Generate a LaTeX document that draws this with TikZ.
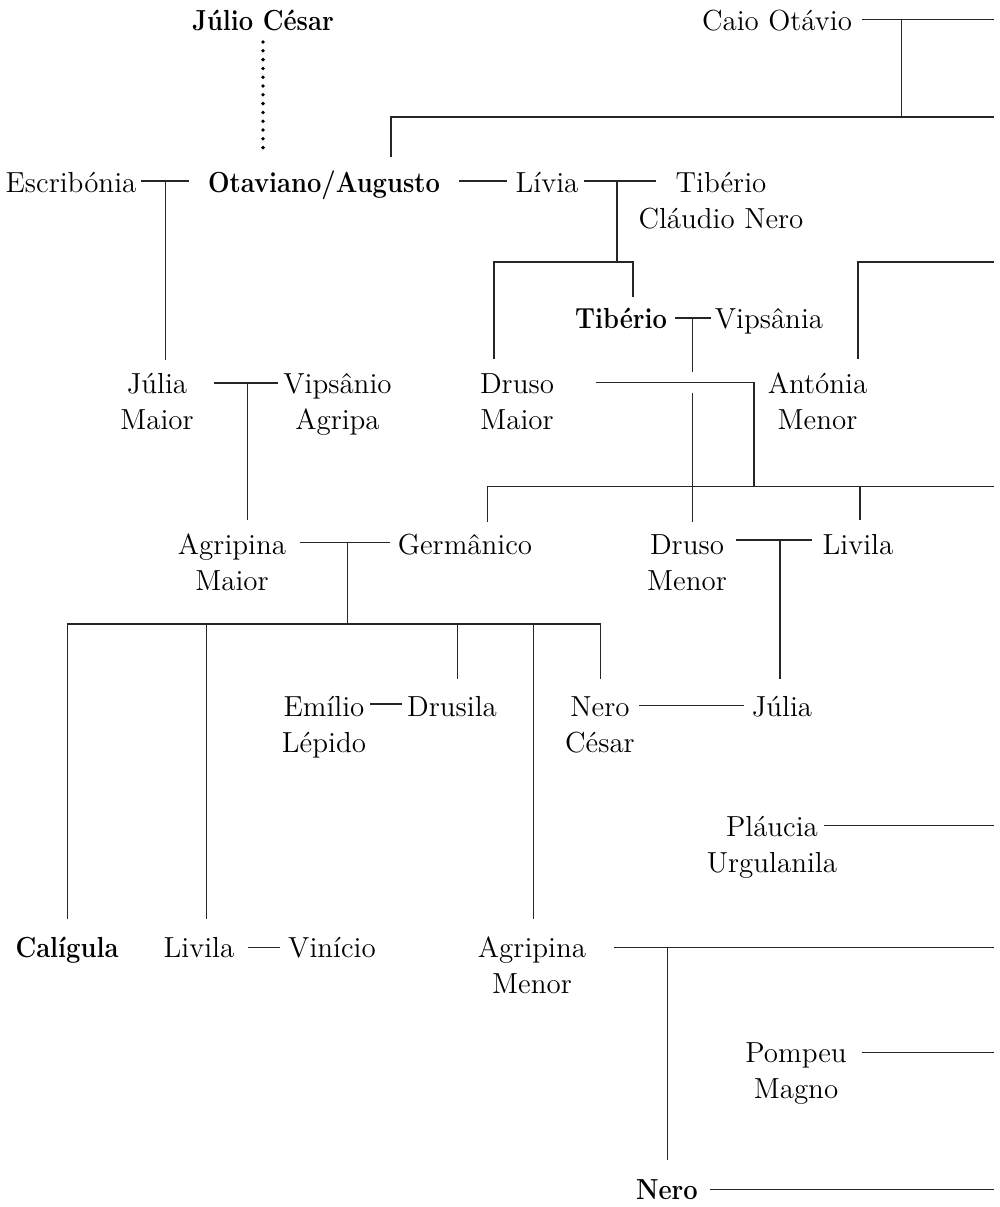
\documentclass[tikz,border=0pt]{standalone}
\newcommand{\rulername}[1]{\scalebox{0.88}[1]{\bfseries #1}}
\begin{document}
\begin{tikzpicture}[x=0.5pt,y=-0.5pt,
  person/.style={anchor=base,inner sep=0pt,align=center,font=\fontsize{14.5}{18}\selectfont},
  ruler/.style={person},
  link/.style={line width=0.65pt,draw=black!85},
  dots/.style={line width=1.9pt,line cap=round,dash pattern=on 0pt off 4.4pt}]
\useasboundingbox (0,0) rectangle (1000,1207);
% people (two-line names are placed by the baseline of their last line)
\node[ruler]  (jc)   at (263,30)    {\rulername{Júlio César}};
\node[person] (caio) at (777,30)    {Caio Otávio};
\node[person] (esc)  at (71,192)    {Escribónia};
\node[ruler]  (aug)  at (324,192)   {\rulername{Otaviano/Augusto}};
\node[person] (liv)  at (547,192)   {Lívia};
\node[person] (tcn)  at (721,228)   {Tibério\\Cláudio Nero};
\node[ruler]  (tib)  at (621,328.5) {\rulername{Tibério}};
\node[person] (vipa) at (769,328.5) {Vipsânia};
\node[person] (julm) at (157,429.5) {Júlia\\Maior};
\node[person] (vipo) at (337.5,429.5) {Vipsânio\\Agripa};
\node[person] (drma) at (517,429.5) {Druso\\Maior};
\node[person] (anto) at (817.5,429.5) {Antónia\\Menor};
\node[person] (agma) at (232,590)   {Agripina\\Maior};
\node[person] (germ) at (465,554)   {Germânico};
\node[person] (drme) at (687,590)   {Druso\\Menor};
\node[person] (livi) at (858,554)   {Livila};
\node[person] (emil) at (324,752)   {Emílio\\Lépido};
\node[person] (drus) at (452,716)   {Drusila};
\node[person] (nerc) at (600,752)   {Nero\\César};
\node[person] (juli) at (782,716)   {Júlia};
\node[person] (plau) at (772,872.5) {Pláucia\\Urgulanila};
\node[ruler]  (cali) at (67,957.5)  {\rulername{Calígula}};
\node[person] (liv2) at (199,957.5) {Livila};
\node[person] (vini) at (332,957.5) {Vinício};
\node[person] (agme) at (532,993.5) {Agripina\\Menor};
\node[person] (pomp) at (796,1098)  {Pompeu\\Magno};
\node[ruler]  (nero) at (667,1199.5){\rulername{Nero}};
% junction coordinates
\coordinate (d1) at (263,42);   \coordinate (d2) at (263,156);
\coordinate (c1) at (862,19.5); \coordinate (c2) at (994,19.5);
\coordinate (c3) at (901.5,19.5); \coordinate (c4) at (901.5,117);
\coordinate (t1) at (391,157);  \coordinate (t2) at (391,117); \coordinate (t3) at (994,117);
\coordinate (e1) at (141,181);  \coordinate (e2) at (189,181);
\coordinate (e3) at (165.5,181); \coordinate (e4) at (165.5,360);
\coordinate (a1) at (459,181);  \coordinate (a2) at (507,181);
\coordinate (l1) at (584,181);  \coordinate (l2) at (656,181);
\coordinate (l3) at (617,181);  \coordinate (l4) at (617,262);
\coordinate (l5) at (494,359);  \coordinate (l6) at (494,262);
\coordinate (l7) at (633,262);  \coordinate (l8) at (633,297);
\coordinate (v1) at (675,318);  \coordinate (v2) at (711,318);
\coordinate (v3) at (692.7,318); \coordinate (v4) at (692.7,372);
\coordinate (v5) at (692.7,393); \coordinate (v6) at (692.7,522);
\coordinate (n1) at (858,359);  \coordinate (n2) at (858,262); \coordinate (n3) at (994,262);
\coordinate (m1) at (596,382.7); \coordinate (m2) at (754,382.7); \coordinate (m3) at (754,486.7);
\coordinate (g1) at (487.6,521.7); \coordinate (g2) at (487.6,486.7); \coordinate (g3) at (994,486.7);
\coordinate (g4) at (860,486.7); \coordinate (g5) at (860,520);
\coordinate (j1) at (214,383);  \coordinate (j2) at (278,383);
\coordinate (j3) at (247.5,383); \coordinate (j4) at (247.5,520);
\coordinate (k1) at (300,542.3); \coordinate (k2) at (389.7,542.3);
\coordinate (k3) at (347.4,542.3); \coordinate (k4) at (347.4,624);
\coordinate (b1) at (67.6,624); \coordinate (b2) at (600.7,624);
\coordinate (b1d) at (67.6,919);
\coordinate (b3) at (206.5,624); \coordinate (b3d) at (206.5,919);
\coordinate (b4) at (457.7,624); \coordinate (b4d) at (457.7,679);
\coordinate (b5) at (533.2,624); \coordinate (b5d) at (533.2,919);
\coordinate (b2d) at (600.7,679);
\coordinate (r1) at (735.7,540); \coordinate (r2) at (812,540);
\coordinate (r3) at (780,540);  \coordinate (r4) at (780,679);
\coordinate (s1) at (370,704);  \coordinate (s2) at (402,704);
\coordinate (s3) at (639,705.7); \coordinate (s4) at (744,705.7);
\coordinate (p1) at (824,825.7); \coordinate (p2) at (994,825.7);
\coordinate (w1) at (247.5,947.7); \coordinate (w2) at (280,947.7);
\coordinate (x1) at (614,947.7); \coordinate (x2) at (994,947.7);
\coordinate (x3) at (667.7,947.7); \coordinate (x4) at (667.7,1160);
\coordinate (q1) at (861.7,1052.3); \coordinate (q2) at (994,1052.3);
\coordinate (z1) at (710,1189.5); \coordinate (z2) at (994,1189.5);
% connectors
\draw[dots] (d1) -- (d2);
\draw[link] (c1) -- (c2);
\draw[link] (c3) -- (c4);
\draw[link] (t1) -- (t2) -- (t3);
\draw[link] (e1) -- (e2);
\draw[link] (e3) -- (e4);
\draw[link] (a1) -- (a2);
\draw[link] (l1) -- (l2);
\draw[link] (l3) -- (l4);
\draw[link] (l5) -- (l6) -- (l7) -- (l8);
\draw[link] (v1) -- (v2);
\draw[link] (v3) -- (v4);
\draw[link] (v5) -- (v6);
\draw[link] (n1) -- (n2) -- (n3);
\draw[link] (m1) -- (m2) -- (m3);
\draw[link] (g1) -- (g2) -- (g3);
\draw[link] (g4) -- (g5);
\draw[link] (j1) -- (j2);
\draw[link] (j3) -- (j4);
\draw[link] (k1) -- (k2);
\draw[link] (k3) -- (k4);
\draw[link] (b1d) -- (b1) -- (b2) -- (b2d);
\draw[link] (b3) -- (b3d);
\draw[link] (b4) -- (b4d);
\draw[link] (b5) -- (b5d);
\draw[link] (r1) -- (r2);
\draw[link] (r3) -- (r4);
\draw[link] (s1) -- (s2);
\draw[link] (s3) -- (s4);
\draw[link] (p1) -- (p2);
\draw[link] (w1) -- (w2);
\draw[link] (x1) -- (x2);
\draw[link] (x3) -- (x4);
\draw[link] (q1) -- (q2);
\draw[link] (z1) -- (z2);
\end{tikzpicture}
\end{document}
